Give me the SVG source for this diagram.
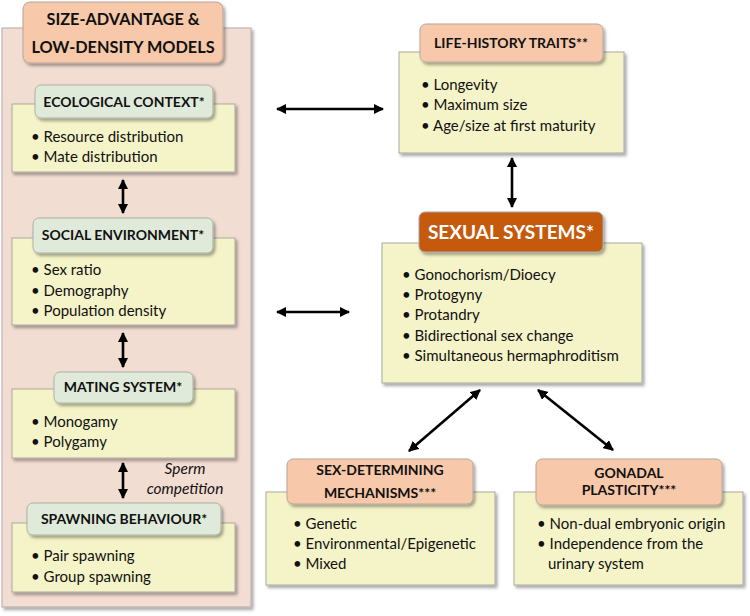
<svg xmlns="http://www.w3.org/2000/svg" width="750" height="616" viewBox="0 0 750 616">
<defs>
<filter id="sh" x="-10%" y="-10%" width="125%" height="130%">
<feDropShadow dx="2" dy="2.5" stdDeviation="1.5" flood-color="#000" flood-opacity="0.35"/>
</filter>
<marker id="ah" viewBox="0 0 10 10" refX="9" refY="5" markerWidth="4" markerHeight="4" orient="auto-start-reverse" markerUnits="strokeWidth">
<path d="M0,0 L10,5 L0,10 z" fill="#000"/>
</marker>
</defs>
<style>
.panel{fill:#f2ddd2;stroke:#b3aaa6;stroke-width:1;filter:url(#sh)}
.box{fill:#f5f4c8;stroke:#a9a9a0;stroke-width:1;filter:url(#sh)}
.hg{fill:#dfeada;stroke:#a9b3a3;stroke-width:1;filter:url(#sh)}
.hs{fill:#f7c8a9;stroke:#b8a59a;stroke-width:1;filter:url(#sh)}
.hd{fill:#c55a11;stroke:#a6a6a6;stroke-width:1;filter:url(#sh)}
text{font-family:Lato,"Open Sans","Liberation Sans",sans-serif;fill:#111}
.h{font-weight:bold;font-size:14px;text-anchor:middle}
.big{font-weight:bold;font-size:16.3px;text-anchor:middle}
.t{font-size:15px}
.w{font-weight:bold;font-size:19px;fill:#fff;text-anchor:middle}
.it{font-style:italic;font-size:15.5px;text-anchor:middle}
.c{stroke:#000;stroke-width:2.6;fill:none;marker-start:url(#ah);marker-end:url(#ah)}
</style>

<g id="models-panel">
<rect class="panel" x="2" y="28" width="249" height="579"/>
<rect class="hs" x="23" y="2" width="200" height="61" rx="7"/>
<text class="big" x="123" y="25">SIZE-ADVANTAGE &amp;</text>
<text class="big" x="123" y="53">LOW-DENSITY MODELS</text>
</g>

<g id="ecological-context">
<rect class="box" x="12" y="104" width="223" height="68"/>
<rect class="hg" x="35" y="85" width="178" height="33" rx="6"/>
<text class="h" x="124" y="107">ECOLOGICAL CONTEXT*</text>
<text class="t" x="31" y="142">• Resource distribution</text>
<text class="t" x="31" y="162">• Mate distribution</text>
</g>

<g id="social-environment">
<rect class="box" x="12" y="238" width="223" height="87"/>
<rect class="hg" x="33" y="218" width="180" height="35" rx="6"/>
<text class="h" x="123" y="240">SOCIAL ENVIRONMENT*</text>
<text class="t" x="31" y="275">• Sex ratio</text>
<text class="t" x="31" y="296">• Demography</text>
<text class="t" x="31" y="316">• Population density</text>
</g>

<g id="mating-system">
<rect class="box" x="12" y="389" width="223" height="69"/>
<rect class="hg" x="54" y="372" width="139" height="31" rx="6"/>
<text class="h" x="123" y="392">MATING SYSTEM*</text>
<text class="t" x="31" y="427">• Monogamy</text>
<text class="t" x="31" y="447">• Polygamy</text>
</g>

<g id="spawning-behaviour">
<rect class="box" x="12" y="523" width="223" height="69"/>
<rect class="hg" x="27" y="503" width="194" height="32" rx="6"/>
<text class="h" x="124" y="524">SPAWNING BEHAVIOUR*</text>
<text class="t" x="31" y="561">• Pair spawning</text>
<text class="t" x="31" y="582">• Group spawning</text>
</g>

<g id="life-history-traits">
<rect class="box" x="399" y="52" width="225" height="101"/>
<rect class="hs" x="420" y="24" width="183" height="38" rx="6"/>
<text class="h" x="511" y="48">LIFE-HISTORY TRAITS**</text>
<text class="t" x="421" y="90">• Longevity</text>
<text class="t" x="421" y="110">• Maximum size</text>
<text class="t" x="421" y="131">• Age/size at first maturity</text>
</g>

<g id="sexual-systems">
<rect class="box" x="382" y="243" width="260" height="140"/>
<rect class="hd" x="419" y="212" width="184" height="40" rx="6"/>
<text class="w" x="511" y="239">SEXUAL SYSTEMS*</text>
<text class="t" x="402" y="280">• Gonochorism/Dioecy</text>
<text class="t" x="402" y="300">• Protogyny</text>
<text class="t" x="402" y="320">• Protandry</text>
<text class="t" x="402" y="341">• Bidirectional sex change</text>
<text class="t" x="402" y="361">• Simultaneous hermaphroditism</text>
</g>

<g id="sex-determining-mechanisms">
<rect class="box" x="266" y="492" width="229" height="93"/>
<rect class="hs" x="287" y="459" width="186" height="45" rx="6"/>
<text class="h" x="380" y="475">SEX-DETERMINING</text>
<text class="h" x="380" y="498">MECHANISMS***</text>
<text class="t" x="293" y="529">• Genetic</text>
<text class="t" x="293" y="549">• Environmental/Epigenetic</text>
<text class="t" x="293" y="569">• Mixed</text>
</g>

<g id="gonadal-plasticity">
<rect class="box" x="514" y="492" width="229" height="93"/>
<rect class="hs" x="536" y="459" width="186" height="46" rx="6"/>
<text class="h" x="629" y="478">GONADAL</text>
<text class="h" x="629" y="495">PLASTICITY***</text>
<text class="t" x="537" y="529">• Non-dual embryonic origin</text>
<text class="t" x="537" y="549">• Independence from the</text>
<text class="t" x="548" y="569">urinary system</text>
</g>

<g id="connectors">
<line class="c" x1="123" y1="180" x2="123" y2="213"/>
<line class="c" x1="123" y1="333" x2="123" y2="367"/>
<line class="c" x1="123" y1="463" x2="123" y2="498"/>
<line class="c" x1="277" y1="109" x2="383" y2="109"/>
<line class="c" x1="277" y1="312" x2="349" y2="312"/>
<line class="c" x1="512" y1="158" x2="512" y2="207"/>
<line class="c" x1="480" y1="390" x2="409" y2="451"/>
<line class="c" x1="538" y1="390" x2="613" y2="450"/>
<text class="it" x="185" y="474">Sperm</text>
<text class="it" x="185" y="494">competition</text>
</g>
</svg>
